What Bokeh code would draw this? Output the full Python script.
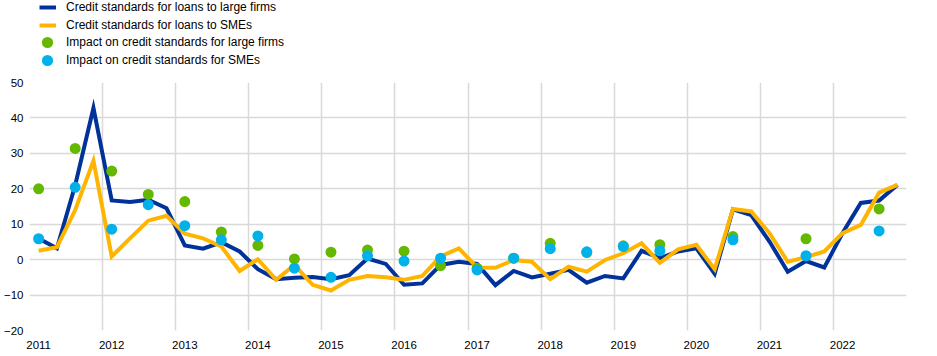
from bokeh.plotting import figure
from bokeh.models import ColumnDataSource, FixedTicker, Legend, LegendItem, Range1d
from bokeh.layouts import column
from bokeh.embed import file_html
from bokeh.resources import INLINE

nan = float("nan")

# Quarterly data, 2011 Q1 - 2022 Q4
years = ["2011", "2012", "2013", "2014", "2015", "2016", "2017", "2018", "2019", "2020", "2021", "2022"]

large_firms = [6.0, 3.2, 21.0, 42.8, 16.7, 16.3, 16.9, 14.5, 4.0, 3.1, 4.9, 2.3,
               -2.7, -5.5, -5.1, -4.9, -5.5, -4.4, 0.3, -1.2, -7.1, -6.7, -1.5, -0.6,
               -1.2, -7.2, -3.2, -5.0, -4.0, -2.9, -6.5, -4.6, -5.3, 2.5, 0.4, 2.3,
               3.2, -4.0, 14.2, 12.6, 5.1, -3.4, -0.4, -2.2, 7.5, 16.0, 16.7, 21.1]

smes = [2.5, 3.5, 14.0, 27.9, 0.9, 6.0, 11.0, 12.4, 7.3, 6.0, 3.7, -3.2,
        0.1, -5.7, -1.5, -7.1, -8.7, -5.7, -4.6, -5.0, -5.7, -4.6, 0.9, 3.2,
        -2.2, -2.3, -0.1, -0.6, -5.5, -2.0, -3.4, -0.1, 1.8, 4.6, -0.9, 2.9,
        4.2, -2.7, 14.3, 13.6, 7.5, -0.6, 0.7, 2.3, 7.5, 9.8, 18.9, 21.1]

# Semi-annual impact (Q1 and Q3 of each year)
impact_large = [20.0, 31.4, 25.0, 18.4, 16.4, 7.8, 4.0, 0.2, 2.1, 2.7, 2.4, -1.7,
                -2.4, 0.4, 4.6, 2.0, 3.9, 4.2, nan, 6.5, nan, 5.9, nan, 14.3]
impact_smes = [5.9, 20.4, 8.6, 15.5, 9.6, 5.6, 6.7, -2.4, -5.0, 1.1, -0.4, 0.4,
               -2.9, 0.4, 3.1, 2.2, 3.7, 2.5, nan, 5.6, nan, 1.1, nan, 8.1]

labels = ["Credit standards for loans to large firms",
          "Credit standards for loans to SMEs",
          "Impact on credit standards for large firms",
          "Impact on credit standards for SMEs"]

y_ticks = [-20, -10, 0, 10, 20, 30, 40, 50]

n = len(large_firms)
xq = list(range(n))
xs = list(range(0, n, 2))

FONT = "Liberation Sans"
BLUE = "#003299"
YELLOW = "#FFB400"
GREEN = "#65B800"
LBLUE = "#00B1EA"

# ---- main chart ----
p = figure(frame_width=877, frame_height=248, output_backend="svg", toolbar_location=None,
           min_border_left=24, min_border_right=19, min_border_top=7, min_border_bottom=10,
           x_range=Range1d(-0.5, n - 0.5), y_range=Range1d(-20, 50))
p.outline_line_color = None
p.background_fill_color = "white"

src_q = ColumnDataSource(dict(x=xq, large=large_firms, sme=smes))
src_s = ColumnDataSource(dict(x=xs, il=impact_large, ism=impact_smes))

p.line("x", "large", source=src_q, line_color=BLUE, line_width=4, line_join="miter")
p.line("x", "sme", source=src_q, line_color=YELLOW, line_width=4, line_join="miter")
p.scatter("x", "il", source=src_s, size=11, fill_color=GREEN, line_color=None)
p.scatter("x", "ism", source=src_s, size=11, fill_color=LBLUE, line_color=None)

p.xaxis.ticker = FixedTicker(ticks=[4 * i for i in range(len(years))])
p.xaxis.major_label_overrides = {4 * i: y for i, y in enumerate(years)}
p.yaxis.ticker = FixedTicker(ticks=y_ticks)
for ax in (p.xaxis[0], p.yaxis[0]):
    ax.axis_line_color = None
    ax.major_tick_line_color = None
    ax.minor_tick_line_color = None
    ax.major_tick_out = 0
    ax.major_tick_in = 0
    ax.major_label_text_font = FONT
    ax.major_label_text_font_size = "11.5px"
    ax.major_label_text_color = "#000000"
p.xaxis.major_label_standoff = 10
p.yaxis.major_label_standoff = 6

p.xgrid.ticker = FixedTicker(ticks=[-0.5 + 4 * i for i in range(len(years) + 1)])
p.ygrid.ticker = FixedTicker(ticks=y_ticks)
p.xgrid.grid_line_color = "#d9d9d9"
p.ygrid.grid_line_color = "#d9d9d9"
p.xgrid.grid_line_width = 1.5
p.ygrid.grid_line_width = 1.5

# ---- legend strip (proxy glyphs kept outside the visible range) ----
lg = figure(frame_width=920, frame_height=75, output_backend="svg", toolbar_location=None,
            min_border=0, x_axis_location=None, y_axis_location=None,
            x_range=Range1d(0, 1), y_range=Range1d(0, 1))
lg.outline_line_color = None
lg.xgrid.visible = False
lg.ygrid.visible = False
g1 = lg.line(x=[-10, -9], y=[-10, -10], line_color=BLUE, line_width=4)
g2 = lg.line(x=[-10, -9], y=[-10, -10], line_color=YELLOW, line_width=4)
g3 = lg.scatter(x=[-10], y=[-10], size=11, fill_color=GREEN, line_color=None)
g4 = lg.scatter(x=[-10], y=[-10], size=11, fill_color=LBLUE, line_color=None)


def style(leg):
    leg.label_text_font = FONT
    leg.label_text_font_size = "12px"
    leg.label_text_color = "#000000"
    leg.padding = 0
    leg.margin = 0
    leg.background_fill_alpha = 0
    leg.border_line_alpha = 0


leg_lines = Legend(items=[LegendItem(label=t, renderers=[r]) for t, r in zip(labels[:2], [g1, g2])],
                   location=(39, 43))
style(leg_lines)
leg_lines.glyph_width = 17
leg_lines.glyph_height = 14
leg_lines.label_height = 14
leg_lines.spacing = 4
leg_lines.label_standoff = 10
lg.add_layout(leg_lines, "center")

for label, rend, vy in [(labels[2], g3, 19), (labels[3], g4, 1)]:
    leg = Legend(items=[LegendItem(label=label, renderers=[rend])], location=(33, vy))
    style(leg)
    leg.glyph_width = 28
    leg.glyph_height = 28
    leg.label_height = 28
    leg.label_standoff = 5
    lg.add_layout(leg, "center")

open("out.html", "w").write(file_html(column(lg, p, spacing=0), INLINE))
